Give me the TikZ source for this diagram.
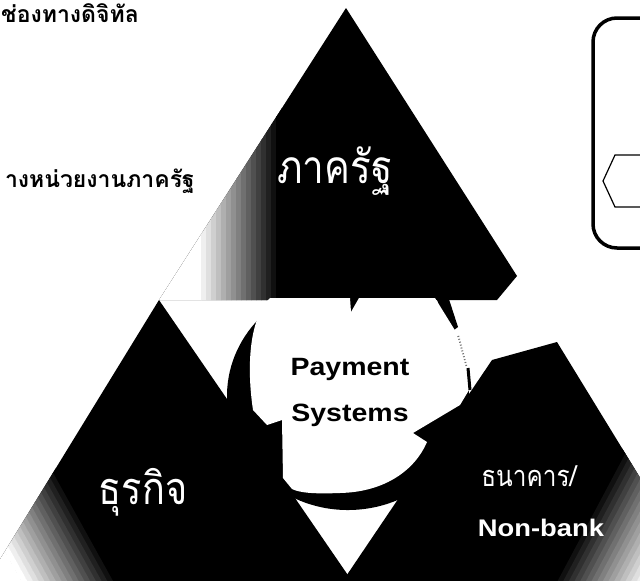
\documentclass[tikz,border=0pt]{standalone}
\usepackage{fontspec}
\setmainfont{Liberation Sans}
\newfontfamily\thaifont[Script=Thai]{Loma}
\newfontfamily\thainarrow[Script=Thai, FakeStretch=0.84]{Loma}
\newfontfamily\widesans[FakeStretch=1.14]{Liberation Sans}
\tikzset{
  toplabel/.style={font=\thaifont\bfseries\fontsize{23}{28}\selectfont, anchor=east, inner sep=0pt},
  tritext/.style={text=white, inner sep=0pt},
}

\begin{document}
\begin{tikzpicture}[x=1pt,y=-1pt]
  \useasboundingbox (0,0) rectangle (640,581);
  \clip (0,0) rectangle (640,581);
  \fill[white] (0,0) rectangle (640,581); % paper

  % top triangle, fades out to the left
  \begin{scope}
    \clip (346,8) -- (517,276) -- (497,300) -- (159,300) -- cycle;
    \fill[black] (150,0) rectangle (540,310);
    \fill[white] (150,0) rectangle (196,310);
    \foreach \i [evaluate=\i as \pct using 100*\i/16] in {0,...,16}
      \fill[black!\pct] (196+5*\i,0) rectangle ++(5.5,310);
  \end{scope}

  % bottom left triangle, fades out to the lower left
  \begin{scope}
    \clip (159,300) -- (365,600) -- (-25,600) -- cycle;
    \fill[black] (-30,290) rectangle (370,600);
    \begin{scope}[rotate around={209:(50,457)}]
      \foreach \i [evaluate=\i as \pct using 100-100*\i/16] in {0,...,16}
        \fill[black!\pct] (50+5*\i,257) rectangle ++(5.5,400);
      \fill[white] (135,257) rectangle (500,657);
    \end{scope}
  \end{scope}

  % bottom right triangle, fades out to the lower right
  \begin{scope}
    \clip (492,360) -- (557,342) -- (715,600) -- (330,600) -- cycle;
    \fill[black] (320,330) rectangle (720,600);
    \begin{scope}[rotate around={-28:(620,453)}]
      \foreach \i [evaluate=\i as \pct using 100-100*\i/16] in {0,...,16}
        \fill[black!\pct] (620+5*\i,253) rectangle ++(5.5,400);
      \fill[white] (705,253) rectangle (900,653);
    \end{scope}
  \end{scope}

  % ring of arrows round the centre, open at the right
  \fill[black] (348,396) -- ++(-5:121 and 114)
    arc[start angle=-5, end angle=310, x radius=121, y radius=114] -- cycle;
  \fill[black] (433,290) -- (446,290) -- (458,327) -- (450,333) -- cycle; % arrow end
  \draw[black!55, line width=2.5pt, dash pattern=on 1pt off 2pt] (458,336) -- (466,366);

  % white centre with the arrow barbs cut in
  \fill[white] (270,298) -- (350,298) -- (351,312) -- (359,298) -- (435,298)
    -- (456,332) -- (466,368) -- (469,390) -- (460,405) -- (413,433) -- (427,442)
    .. controls (415,470) and (385,492) .. (340,493)
    .. controls (315,494) and (300,493) .. (292,489)
    -- (283,478) -- (282,420) -- (267,425) -- (253,410)
    .. controls (247,370) and (248,320) .. (270,298) -- cycle;
  \draw[black, line width=3pt] (468,368) -- (470,390); % arrow tip

  % box at the right edge
  \draw[line width=3.5pt, rounded corners=24pt] (593,18) rectangle (700,248);
  \draw[line width=1.2pt] (603,181) -- (615,155) -- (680,155) -- (692,181)
    -- (680,207) -- (615,207) -- cycle;

  % labels
  \node[toplabel] (digital) at (139,13) {ช่องทางดิจิทัล};
  \node[toplabel] (agency) at (195,181) {างหน่วยงานภาครัฐ};
  \node[tritext, font=\thainarrow\fontsize{46}{52}\selectfont] (gov) at (335,171) {ภาครัฐ};
  \node[tritext, font=\thainarrow\fontsize{45}{52}\selectfont] (biz) at (143,492) {ธุรกิจ};
  \node[tritext, font=\thainarrow\fontsize{29}{36}\selectfont] (bank) at (529,476) {ธนาคาร/};
  \node[tritext, font=\widesans\bfseries\fontsize{24}{30}\selectfont] (nonbank) at (541,528) {Non-bank};
  \node[font=\widesans\bfseries\fontsize{25}{46}\selectfont, align=center, inner sep=0pt] (pay)
    at (350,392) {Payment\\Systems};
\end{tikzpicture}
\end{document}
